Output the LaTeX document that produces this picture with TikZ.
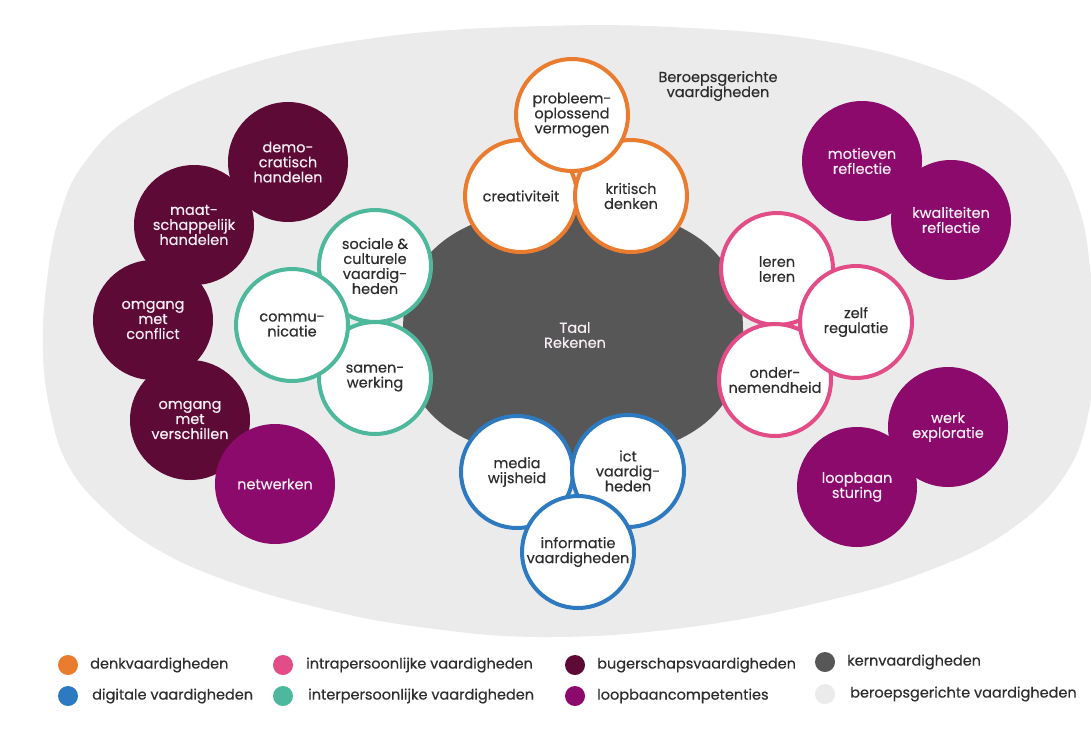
\documentclass[tikz,border=0pt]{standalone}
\usepackage{fontspec}
\setmainfont{Poppins}[FakeBold=0.35,AutoFakeBold=0.35]
\definecolor{cOrange}{HTML}{EA7C30}
\definecolor{cBlue}{HTML}{2E7AC0}
\definecolor{cPink}{HTML}{E24C87}
\definecolor{cTeal}{HTML}{4DB89C}
\definecolor{cMaroon}{HTML}{5E0A36}
\definecolor{cPurple}{HTML}{8B0A6B}
\definecolor{cKern}{HTML}{575757}
\definecolor{cBeroep}{HTML}{EBEBEB}
\definecolor{cTxt}{HTML}{2D2D2D}
\definecolor{cWtxt}{HTML}{F8EEF5}
\newcommand\circfont{\fontsize{14.5}{15}\selectfont\bfseries}
\newcommand\legfont{\fontsize{14.5}{15}\selectfont\bfseries}
\tikzset{
  skill/.style={circle, draw=#1, line width=4pt, fill=white, minimum size=112pt, inner sep=0pt, align=center, font=\circfont, text=cTxt},
  purp/.style={circle, fill=#1, minimum size=120pt, inner sep=0pt, align=center, font=\circfont, text=cWtxt},
  legdot/.style={circle, fill=#1, minimum size=20pt, inner sep=0pt},
  legtxt/.style={anchor=west, inner sep=0pt, font=\legfont, text=cTxt},
}
\begin{document}
\begin{tikzpicture}[x=1pt,y=-1pt]
\useasboundingbox (0,0) rectangle (1091,747);
\fill[white] (0,0) rectangle (1091,747);
% beroepsgerichte background shape
\fill[cBeroep] plot[smooth cycle, tension=0.7] coordinates {
 (43,350) (47,280) (60,215) (85,162) (139,112) (243,66) (382,37) (545,26) (690,28) (824,41) (928,66) (998,100) (1050,150) (1078,205) (1090,268) (1093,340) (1089,410) (1065,475) (1010,530) (930,570) (830,600) (690,627) (545,637) (420,627) (320,608) (225,580) (155,548) (105,510) (68,465) (50,410)};
% kern
\fill[cKern] plot[variable=\t, domain=0:359, samples=180]
  ({573+170*sign(cos(\t))*pow(abs(cos(\t))+0.00001,0.833)},
   {333+125*sign(sin(\t))*pow(abs(sin(\t))+0.00001,0.833)}) -- cycle;
\node[text=cWtxt, font=\circfont, align=center] (kern) at (575,335) {Taal\\Rekenen};
\node[text=cTxt, font=\circfont, align=center] (beroep) at (718,86) {Beroepsgerichte\\vaardigheden};
% burgerschap
\node[purp=cMaroon] (demo) at (288,162) {demo-\\cratisch\\handelen};
\node[purp=cMaroon] (maat) at (194,225) {maat-\\schappelijk\\handelen};
\node[purp=cMaroon] (conflict) at (153,320) {omgang\\met\\conflict};
\node[purp=cMaroon] (verschil) at (190,420) {omgang\\met\\verschillen};
% loopbaan
\node[purp=cPurple] (netwerk) at (275,484) {netwerken};
\node[purp=cPurple] (motief) at (862,161) {motieven\\reflectie};
\node[purp=cPurple] (kwal) at (951,220) {kwaliteiten\\reflectie};
\node[purp=cPurple] (werk) at (948,427) {werk\\exploratie};
\node[purp=cPurple] (loop) at (857,487) {loopbaan\\sturing};
% denk
\node[skill=cOrange] (creat) at (521,196) {creativiteit};
\node[skill=cOrange] (krit) at (631,196) {kritisch\\denken};
\node[skill=cOrange] (prob) at (572,115) {probleem-\\oplossend\\vermogen};
% inter
\node[skill=cTeal] (soc) at (375,266) {sociale \&\\culturele\\vaardig-\\heden};
\node[skill=cTeal] (samen) at (375,378) {samen-\\werking};
\node[skill=cTeal] (comm) at (292,325) {commu-\\nicatie};
% intra
\node[skill=cPink] (leren) at (777,269) {leren\\leren};
\node[skill=cPink] (onder) at (775,380) {onder-\\nemendheid};
\node[skill=cPink] (zelf) at (856,322) {zelf\\regulatie};
% digitaal
\node[skill=cBlue] (media) at (517,472) {media\\wijsheid};
\node[skill=cBlue] (ict) at (628,471) {ict\\vaardig-\\heden};
\node[skill=cBlue] (info) at (578,552) {informatie\\vaardigheden};
% legend
\node[legdot=cOrange] (d1) at (68,665) {};
\node[legtxt] (t1) at (90,665) {denkvaardigheden};
\node[legdot=cBlue] (d2) at (68,696) {};
\node[legtxt] (t2) at (92,696) {digitale vaardigheden};
\node[legdot=cPink] (d3) at (283,665) {};
\node[legtxt] (t3) at (306,665) {intrapersoonlijke vaardigheden};
\node[legdot=cTeal] (d4) at (283,696) {};
\node[legtxt] (t4) at (308,696) {interpersoonlijke vaardigheden};
\node[legdot=cMaroon] (d5) at (575,665) {};
\node[legtxt] (t5) at (597,665) {bugerschapsvaardigheden};
\node[legdot=cPurple] (d6) at (575,696) {};
\node[legtxt] (t6) at (597,696) {loopbaancompetenties};
\node[legdot=cKern] (d7) at (825,662) {};
\node[legtxt] (t7) at (847,662) {kernvaardigheden};
\node[legdot=cBeroep] (d8) at (825,694) {};
\node[legtxt] (t8) at (850,694) {beroepsgerichte vaardigheden};
\end{tikzpicture}
\end{document}
